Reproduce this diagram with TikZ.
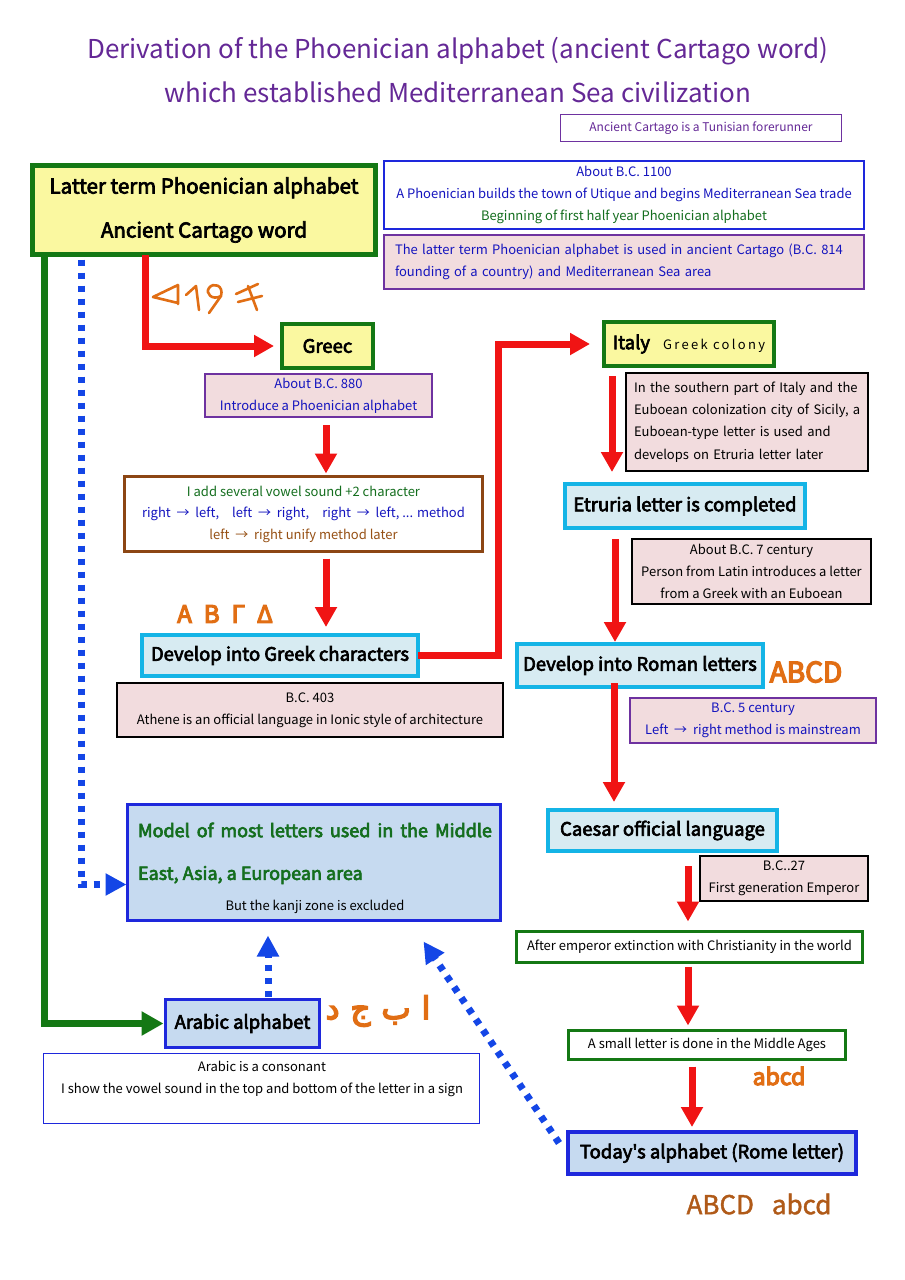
\documentclass[tikz,border=0pt]{standalone}
\usepackage{fontspec}
\setmainfont{Noto Sans CJK JP}
\newfontfamily\bfx[FakeBold=3.5]{Noto Sans CJK JP}
\newfontfamily\bfo[FakeBold=5]{Noto Sans CJK JP}
\newfontfamily\bfl[FakeBold=1.5]{Noto Sans CJK JP}
\newfontfamily\arabicfont[Script=Arabic,FakeBold=5]{DejaVu Sans}
\TeXXeTstate=1
\usetikzlibrary{arrows.meta,calc}
\definecolor{titlec}{RGB}{100,40,150}
\definecolor{gborder}{RGB}{20,120,20}
\definecolor{yellowf}{RGB}{250,248,160}
\definecolor{pinkf}{RGB}{242,220,222}
\definecolor{purpb}{RGB}{110,50,160}
\definecolor{bluet}{RGB}{20,20,190}
\definecolor{blueb}{RGB}{30,40,220}
\definecolor{cyanb}{RGB}{20,180,230}
\definecolor{lbluef}{RGB}{215,235,242}
\definecolor{mbluef}{RGB}{198,218,240}
\definecolor{redc}{RGB}{240,20,20}
\definecolor{orangec}{RGB}{225,110,20}
\definecolor{brownb}{RGB}{140,70,20}
\definecolor{brownt}{RGB}{150,80,20}
\definecolor{greent}{RGB}{20,110,30}
\definecolor{dotblue}{RGB}{20,70,230}
\definecolor{abcdc}{RGB}{176,90,24}
\newcommand\myfs[2]{\fontsize{#1}{#2}\selectfont}
\begin{document}
\begin{tikzpicture}[x=1pt,y=-1pt,
  every node/.style={inner sep=0pt, outer sep=0pt},
  yelbox/.style={draw=gborder, fill=yellowf, line width=4.5pt},
  pinkbox/.style={draw=purpb, fill=pinkf, line width=1.6pt},
  pinkblk/.style={draw=black, fill=pinkf, line width=1.6pt},
  cyanbox/.style={draw=cyanb, fill=lbluef, line width=4pt},
  bluebox/.style={draw=blueb, fill=mbluef, line width=3.5pt},
  wbluebox/.style={draw=blueb, fill=white, line width=1.6pt},
  wgreenbox/.style={draw=gborder, fill=white, line width=3pt},
  small/.style={font=\myfs{13}{22}, align=center},
  big/.style={font=\bfx\myfs{18.5}{22}},
  redarr/.style={draw=redc, line width=7pt, -{Triangle[width=21pt,length=20pt]}},
  greenarr/.style={draw=gborder, line width=7pt, -{Triangle[width=23pt,length=22pt]}},
  bluedot/.style={draw=dotblue, line width=7pt, dash pattern=on 6pt off 7pt, -{Triangle[width=21pt,length=21pt]}},
  glyph/.style={draw=orangec, line width=2.6pt, line cap=round, line join=round}
]
\useasboundingbox (0,0) rectangle (905,1280);
\fill[white] (0,0) rectangle (905,1280);

% title
\node[text=titlec, font=\myfs{26}{44}, align=center] (title) at (458,70)
  {Derivation of the Phoenician alphabet (ancient Cartago word)\\which established Mediterranean Sea civilization};
\node[draw=purpb, line width=1pt, minimum width=281pt, minimum height=27pt, text=titlec, font=\myfs{12}{14}] (tunis) at (701,128)
  {Ancient Cartago is a Tunisian forerunner};

% top boxes
\node[yelbox, minimum width=343pt, minimum height=89pt, font=\bfx\myfs{20.5}{44}, align=center] (box1) at (204,210)
  {Latter term Phoenician alphabet\\Ancient Cartago word};
\node[wbluebox, minimum width=480pt, minimum height=68pt, small] (b1100) at (624,195)
  {\textcolor{bluet}{About B.C. 1100}\\\textcolor{bluet}{A Phoenician builds the town of Utique and begins Mediterranean Sea trade}\\\textcolor{greent}{Beginning of first half year Phoenician alphabet}};
\node[pinkbox, minimum width=480pt, minimum height=54pt, font=\myfs{13}{22}, text width=458pt, align=left, text=bluet] (latter) at (624,262)
  {The latter term Phoenician alphabet is used in ancient Cartago (B.C. 814\\founding of a country) and Mediterranean Sea area};

% Greek column
\node[yelbox, minimum width=91pt, minimum height=44pt, big] (greec) at (327.5,346) {Greec};
\node[pinkbox, minimum width=227pt, minimum height=43pt, small, text=bluet] (bc880) at (318.5,395.5)
  {About B.C. 880\\Introduce a Phoenician alphabet};
\node[draw=brownb, fill=white, line width=3pt, minimum width=358pt, minimum height=75pt, font=\myfs{13}{21.5}, align=center] (vowel) at (303.5,514)
  {\textcolor{greent}{I add several vowel sound +2 character}\\
   \textcolor{bluet}{right \ → \ left,\quad left \ → \ right,\quad right \ → \ left, ... method}\\
   \textcolor{brownt}{left \ → \ right unify method later}};
\node[text=orangec, font=\bfo\myfs{24}{26}] (greekl) at (225,614) {Α\hspace{12pt}Β\hspace{12pt}Γ\hspace{12pt}Δ};
\node[cyanbox, minimum width=276pt, minimum height=41pt, big] (greek) at (280,655.5) {Develop into Greek characters};
\node[pinkblk, minimum width=386pt, minimum height=54pt, small] (bc403) at (310,710)
  {B.C. 403\\Athene is an official language in Ionic style of architecture};

% Roman column
\node[yelbox, minimum width=170pt, minimum height=44pt] (italy) at (689,344)
  {{\bfx\myfs{18.5}{22}Italy}\hspace{13pt}{\rmfamily\myfs{13}{15}\addfontfeatures{LetterSpace=18}Greek colony}};
\node[pinkblk, minimum width=242pt, minimum height=98pt, font=\myfs{13}{22.2}, text width=226pt, align=left] (south) at (747,422)
  {\makebox[226pt][s]{In the southern part of Italy and the}\\
   \makebox[226pt][s]{Euboean colonization city of Sicily, a}\\
   \makebox[226pt][s]{Euboean-type letter is used and}\\
   develops on Etruria letter later};
\node[cyanbox, minimum width=240pt, minimum height=44pt, big] (etruria) at (685,506) {Etruria letter is completed};
\node[pinkblk, minimum width=239pt, minimum height=65pt, small] (bc7) at (751.5,571.5)
  {About B.C. 7 century\\Person from Latin introduces a letter\\from a Greek with an Euboean};
\node[cyanbox, minimum width=246pt, minimum height=43pt, big] (roman) at (640,665.5) {Develop into Roman letters};
\node[text=orangec, font=\bfo\myfs{28}{30}] (abcd1) at (806,672) {ABCD};
\node[pinkbox, minimum width=246pt, minimum height=45pt, small, text=bluet] (bc5) at (753,720.5)
  {B.C. 5 century\\Left \ → \ right method is mainstream};
\node[cyanbox, minimum width=229pt, minimum height=41pt, big] (caesar) at (662.5,830.5) {Caesar official language};
\node[pinkblk, minimum width=168pt, minimum height=45pt, small] (bc27) at (784,878.5)
  {B.C..27\\First generation Emperor};
\node[wgreenbox, minimum width=346pt, minimum height=31pt, font=\myfs{13}{16}] (after) at (689.5,947)
  {After emperor extinction with Christianity in the world};
\node[wgreenbox, minimum width=277pt, minimum height=29pt, font=\myfs{13}{16}] (small) at (707,1045)
  {A small letter is done in the Middle Ages};
\node[text=orangec, font=\bfo\myfs{23}{25}] (abcd2) at (779,1076) {abcd};
\node[bluebox, minimum width=288pt, minimum height=42pt, big] (today) at (712,1153) {Today's alphabet (Rome letter)};
\node[text=abcdc, font=\bfl\myfs{26}{28}] (abcd3) at (759,1204) {ABCD\hspace{18pt}abcd};

% left lower
\node[bluebox, minimum width=373pt, minimum height=116pt] (model) at (314,862.5) {};
\node[anchor=west, text=greent, font=\bfx\myfs{18}{20}] (m1) at (138,830) {\makebox[354pt][s]{Model of most letters used in the Middle}};
\node[anchor=west, text=greent, font=\bfx\myfs{18}{20}] (m2) at (138,875) {East, Asia, a European area};
\node[font=\myfs{13}{15}] (m3) at (315,907) {But the kanji zone is excluded};
\node[bluebox, minimum width=154pt, minimum height=48pt, big] (arabic) at (242.5,1023.5) {Arabic alphabet};
\node[text=orangec, font=\arabicfont\myfs{31}{33}] (arabl) at (378,1011) {\beginR ا\hspace{11pt}ب\hspace{11pt}ج\hspace{11pt}د\endR};
\node[wbluebox, minimum width=436pt, minimum height=70pt] (cons) at (261.5,1088.5) {};
\node[small] (consl) at (262,1079) {Arabic is a consonant\\I show the vowel sound in the top and bottom of the letter in a sign};

% Phoenician glyphs
\draw[glyph] (178,285) -- (153,297) -- (178,303) (178,285) -- (178,304);
\draw[glyph] (186,295) -- (196,286) -- (199,310);
\draw[glyph] (221,296) .. controls (212,301) and (205,293) .. (209,288) .. controls (213,282) and (224,285) .. (221,296) -- (209,313);
\draw[glyph] (236,294) -- (258,284) (238,302) -- (262,296) (248,286) -- (257,310);

% connectors
\draw[redarr, shorten >=8pt] (box1.south west) ++(113,0) |- (greec.west);
\draw[greenarr, shorten >=2pt] (box1.south west) ++(12,0) |- (arabic.west);
\draw[bluedot, shorten >=1pt] ($(box1.south west)+(49,5)$) |- ($(model.west)+(0,22)$);
\draw[redarr, shorten <=8pt, shorten >=3pt] (bc880.south -| 326,0) -- (vowel.north -| 326,0);
\draw[redarr, shorten <=7pt, shorten >=8pt] (vowel.south -| 326,0) -- (greek.north -| 326,0);
\draw[redarr, shorten >=14pt] (greek.east) -- (greek.east -| 498,0) |- (italy.west);
\draw[redarr, shorten <=10pt, shorten >=12pt] (italy.south -| 612,0) -- (etruria.north -| 612,0);
\draw[redarr, shorten <=11pt, shorten >=2pt] (etruria.south -| 615,0) -- (roman.north -| 615,0);
\draw[redarr, shorten <=-4pt, shorten >=8pt] (roman.south -| 614,0) -- (caesar.north -| 614,0);
\draw[redarr, shorten <=15pt, shorten >=10pt] (caesar.south -| 688,0) -- (after.north -| 688,0);
\draw[redarr, shorten <=4pt, shorten >=5pt] (after.south -| 688,0) -- (small.north -| 688,0);
\draw[redarr, shorten <=7pt, shorten >=5pt] (small.south -| 692,0) -- (today.north -| 692,0);
\draw[bluedot, shorten <=3pt, shorten >=15pt] (arabic.north -| 268,0) -- (model.south -| 268,0);
\draw[bluedot] ($(today.west)+(-9,-10)$) -- ($(model.south east)+(-77,21)$);
\end{tikzpicture}
\end{document}
